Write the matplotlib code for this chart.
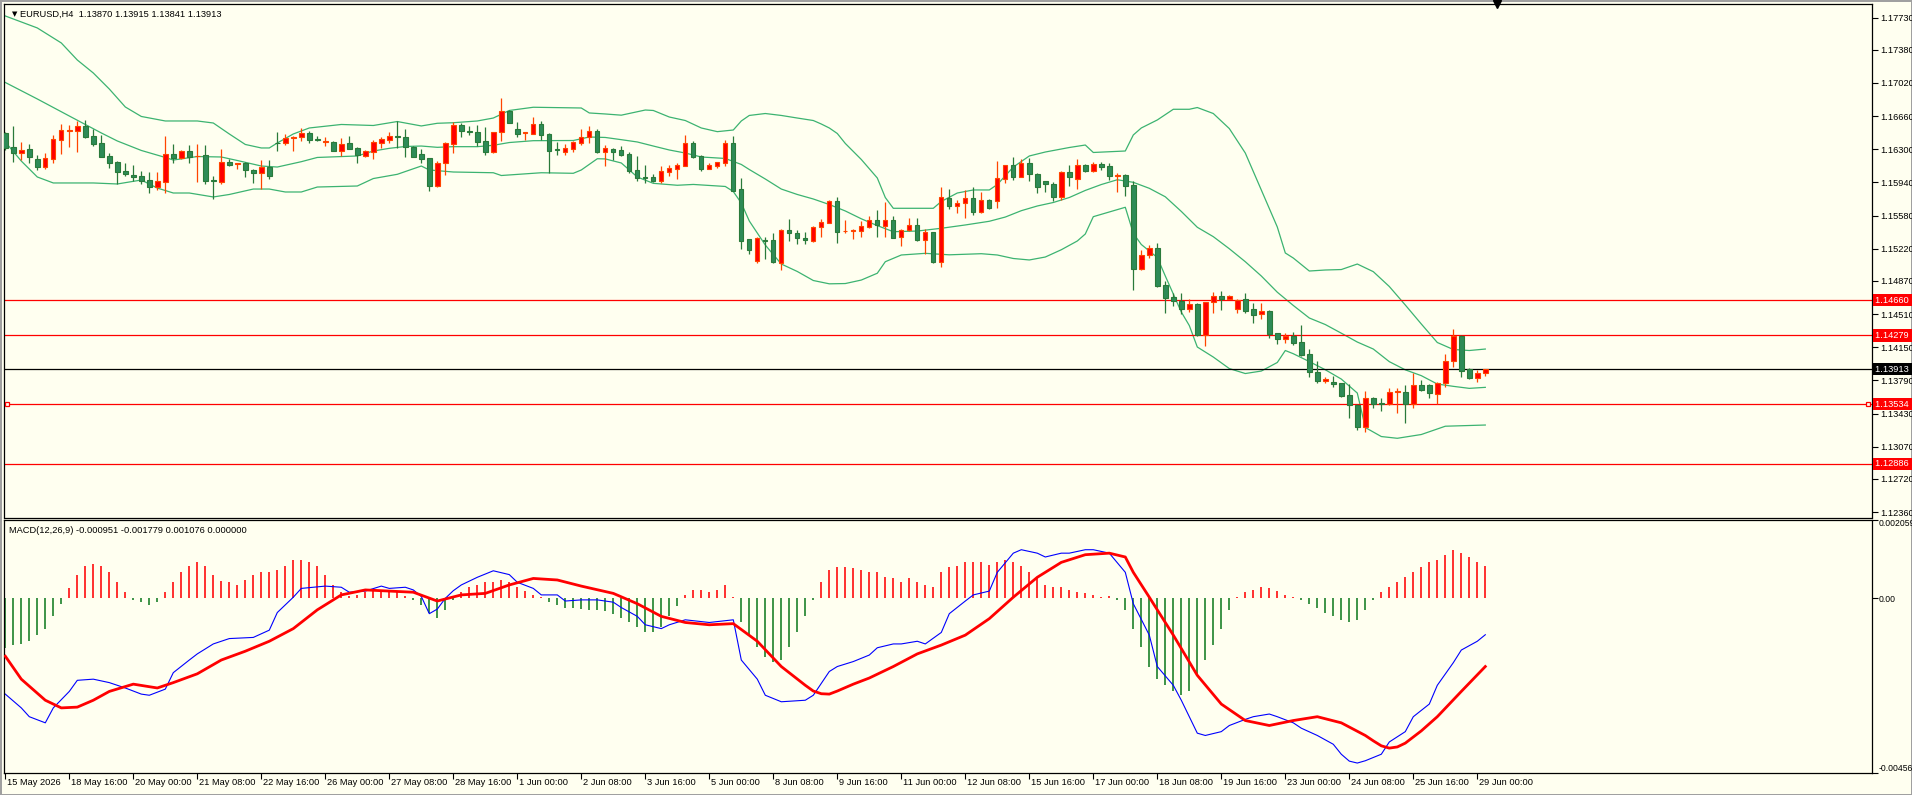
import matplotlib.pyplot as plt
import matplotlib.transforms as mtransforms

# ---- data (EURUSD H4) ----
opens = [1.16480, 1.16321, 1.16256, 1.16303, 1.16194, 1.16111, 1.16198, 1.16404, 1.16502, 1.16502,
         1.16553, 1.16444, 1.16368, 1.16227, 1.16165, 1.16068, 1.16021, 1.16010, 1.15966, 1.15894,
         1.15948, 1.16249, 1.16202, 1.16281, 1.16223, 1.16234, 1.15966, 1.15948, 1.16158, 1.16144,
         1.16147, 1.16075, 1.16039, 1.16104, 1.16372, 1.16364, 1.16422, 1.16429, 1.16480, 1.16411,
         1.16379, 1.16379, 1.16285, 1.16368, 1.16310, 1.16230, 1.16274, 1.16372, 1.16404, 1.16440,
         1.16429, 1.16328, 1.16249, 1.16202, 1.15905, 1.16147, 1.16361, 1.16563, 1.16495, 1.16484,
         1.16390, 1.16274, 1.16484, 1.16712, 1.16516, 1.16477, 1.16469, 1.16574, 1.16466, 1.16299,
         1.16274, 1.16303, 1.16372, 1.16429, 1.16498, 1.16274, 1.16303, 1.16292, 1.16249, 1.16075,
         1.15999, 1.15995, 1.15959, 1.16057, 1.16089, 1.16122, 1.16368, 1.16227, 1.16089, 1.16122,
         1.16154, 1.16372, 1.15869, 1.15322, 1.15090, 1.15318, 1.15315, 1.15069, 1.15423, 1.15387,
         1.15340, 1.15307, 1.15452, 1.15503, 1.15738, 1.15409, 1.15413, 1.15416, 1.15460, 1.15532,
         1.15471, 1.15532, 1.15344, 1.15423, 1.15478, 1.15318, 1.15402, 1.15080, 1.15767, 1.15688,
         1.15713, 1.15767, 1.15622, 1.15749, 1.15735, 1.15981, 1.16125, 1.16003, 1.16147, 1.16028,
         1.15955, 1.15919, 1.15785, 1.16053, 1.15981, 1.16129, 1.16068, 1.16140, 1.16118, 1.16013,
         1.16017, 1.15912, 1.14996, 1.15148, 1.15224, 1.14823, 1.14692, 1.14656, 1.14570, 1.14620,
         1.14280, 1.14638, 1.14707, 1.14678, 1.14570, 1.14671, 1.14566, 1.14508, 1.14544, 1.14301,
         1.14236, 1.14273, 1.14204, 1.14074, 1.13885, 1.13788, 1.13769, 1.13759, 1.13632, 1.13527,
         1.13288, 1.13596, 1.13545, 1.13534, 1.13664, 1.13668, 1.13534, 1.13737, 1.13737, 1.13643,
         1.13759, 1.14005, 1.14273, 1.13911, 1.13813, 1.13870]
highs = [1.16491, 1.16553, 1.16379, 1.16357, 1.16238, 1.16263, 1.16455, 1.16574, 1.16563, 1.16610,
         1.16618, 1.16516, 1.16455, 1.16256, 1.16173, 1.16147, 1.16129, 1.16064, 1.16053, 1.16053,
         1.16444, 1.16357, 1.16296, 1.16346, 1.16357, 1.16343, 1.16010, 1.16303, 1.16191, 1.16151,
         1.16165, 1.16082, 1.16183, 1.16183, 1.16491, 1.16466, 1.16444, 1.16527, 1.16502, 1.16444,
         1.16437, 1.16390, 1.16419, 1.16444, 1.16328, 1.16292, 1.16401, 1.16429, 1.16491, 1.16607,
         1.16520, 1.16335, 1.16303, 1.16209, 1.16173, 1.16382, 1.16600, 1.16582, 1.16553, 1.16563,
         1.16538, 1.16491, 1.16857, 1.16726, 1.16596, 1.16491, 1.16650, 1.16607, 1.16480, 1.16379,
         1.16357, 1.16390, 1.16520, 1.16553, 1.16516, 1.16343, 1.16310, 1.16335, 1.16270, 1.16227,
         1.16129, 1.16031, 1.16118, 1.16126, 1.16154, 1.16455, 1.16393, 1.16238, 1.16154, 1.16165,
         1.16401, 1.16444, 1.15984, 1.15329, 1.15344, 1.15351, 1.15387, 1.15431, 1.15543, 1.15423,
         1.15398, 1.15470, 1.15539, 1.15749, 1.15782, 1.15532, 1.15431, 1.15525, 1.15579, 1.15641,
         1.15727, 1.15575, 1.15431, 1.15557, 1.15557, 1.15431, 1.15402, 1.15887, 1.15865, 1.15749,
         1.15858, 1.15887, 1.15836, 1.15764, 1.16173, 1.16129, 1.16216, 1.16191, 1.16201, 1.16046,
         1.15959, 1.15941, 1.16064, 1.16129, 1.16191, 1.16136, 1.16162, 1.16165, 1.16147, 1.16039,
         1.16031, 1.15959, 1.15206, 1.15260, 1.15279, 1.14866, 1.14743, 1.14736, 1.14671, 1.14627,
         1.14645, 1.14750, 1.14761, 1.14714, 1.14671, 1.14740, 1.14627, 1.14627, 1.14555, 1.14309,
         1.14301, 1.14312, 1.14388, 1.14128, 1.14001, 1.13824, 1.13838, 1.13762, 1.13751, 1.13534,
         1.13672, 1.13614, 1.13596, 1.13708, 1.13704, 1.13740, 1.13874, 1.13795, 1.13751, 1.13773,
         1.14077, 1.14345, 1.14283, 1.13921, 1.13903, 1.13915]
lows = [1.16292, 1.16165, 1.16183, 1.16154, 1.16075, 1.16082, 1.16154, 1.16249, 1.16328, 1.16274,
        1.16426, 1.16339, 1.16212, 1.16100, 1.15919, 1.16013, 1.15959, 1.15926, 1.15829, 1.15858,
        1.15822, 1.16147, 1.16194, 1.16147, 1.15941, 1.15919, 1.15756, 1.15919, 1.16118, 1.16082,
        1.16003, 1.15930, 1.15869, 1.15977, 1.16278, 1.16343, 1.16285, 1.16393, 1.16364, 1.16386,
        1.16335, 1.16281, 1.16227, 1.16303, 1.16154, 1.16212, 1.16194, 1.16314, 1.16364, 1.16310,
        1.16220, 1.16212, 1.16147, 1.15851, 1.15887, 1.16024, 1.16263, 1.16437, 1.16451, 1.16339,
        1.16241, 1.16256, 1.16393, 1.16585, 1.16437, 1.16401, 1.16466, 1.16401, 1.16039, 1.16241,
        1.16241, 1.16270, 1.16346, 1.16364, 1.16263, 1.16118, 1.16183, 1.16227, 1.16046, 1.15959,
        1.15937, 1.15948, 1.15937, 1.16010, 1.15977, 1.16118, 1.16209, 1.16068, 1.16082, 1.16093,
        1.16118, 1.15847, 1.15214, 1.15163, 1.15061, 1.15109, 1.15069, 1.14989, 1.15308, 1.15268,
        1.15268, 1.15297, 1.15351, 1.15496, 1.15279, 1.15387, 1.15322, 1.15344, 1.15442, 1.15351,
        1.15344, 1.15336, 1.15253, 1.15413, 1.15300, 1.15163, 1.15061, 1.15025, 1.15655, 1.15612,
        1.15557, 1.15590, 1.15612, 1.15655, 1.15666, 1.15937, 1.15966, 1.15995, 1.15959, 1.15829,
        1.15836, 1.15742, 1.15749, 1.15901, 1.15872, 1.16049, 1.16053, 1.16075, 1.15966, 1.15840,
        1.15793, 1.14772, 1.14989, 1.15123, 1.14808, 1.14526, 1.14598, 1.14511, 1.14533, 1.14273,
        1.14168, 1.14519, 1.14555, 1.14671, 1.14526, 1.14519, 1.14410, 1.14461, 1.14247, 1.14182,
        1.14200, 1.14175, 1.14055, 1.13824, 1.13759, 1.13759, 1.13722, 1.13614, 1.13379, 1.13252,
        1.13234, 1.13487, 1.13462, 1.13523, 1.13440, 1.13324, 1.13487, 1.13679, 1.13596, 1.13534,
        1.13715, 1.13939, 1.13824, 1.13802, 1.13777, 1.13841]
closes = [1.16310, 1.16256, 1.16292, 1.16220, 1.16111, 1.16202, 1.16408, 1.16509, 1.16509, 1.16553,
          1.16437, 1.16361, 1.16220, 1.16154, 1.16057, 1.16035, 1.16003, 1.15959, 1.15894, 1.15955,
          1.16249, 1.16209, 1.16285, 1.16212, 1.16230, 1.15959, 1.15952, 1.16165, 1.16133, 1.16147,
          1.16071, 1.16039, 1.16104, 1.16013, 1.16364, 1.16419, 1.16429, 1.16473, 1.16401, 1.16404,
          1.16386, 1.16285, 1.16357, 1.16306, 1.16238, 1.16281, 1.16379, 1.16408, 1.16444, 1.16429,
          1.16321, 1.16220, 1.16194, 1.15905, 1.16147, 1.16364, 1.16563, 1.16502, 1.16484, 1.16382,
          1.16274, 1.16484, 1.16715, 1.16589, 1.16469, 1.16484, 1.16574, 1.16455, 1.16285, 1.16288,
          1.16314, 1.16379, 1.16429, 1.16495, 1.16270, 1.16314, 1.16270, 1.16238, 1.16068, 1.15992,
          1.15992, 1.15959, 1.16060, 1.16093, 1.16129, 1.16368, 1.16220, 1.16089, 1.16129, 1.16162,
          1.16372, 1.15851, 1.15308, 1.15206, 1.15336, 1.15307, 1.15080, 1.15423, 1.15387, 1.15333,
          1.15311, 1.15460, 1.15510, 1.15738, 1.15405, 1.15416, 1.15420, 1.15467, 1.15532, 1.15478,
          1.15532, 1.15340, 1.15423, 1.15478, 1.15315, 1.15402, 1.15080, 1.15778, 1.15684, 1.15713,
          1.15767, 1.15622, 1.15749, 1.15666, 1.15984, 1.16125, 1.16003, 1.16147, 1.16028, 1.15894,
          1.15919, 1.15785, 1.16053, 1.15995, 1.16125, 1.16068, 1.16140, 1.16111, 1.16013, 1.16021,
          1.15905, 1.15003, 1.15148, 1.15224, 1.14815, 1.14689, 1.14649, 1.14570, 1.14616, 1.14280,
          1.14638, 1.14707, 1.14674, 1.14703, 1.14663, 1.14548, 1.14504, 1.14544, 1.14294, 1.14243,
          1.14273, 1.14200, 1.14066, 1.13885, 1.13788, 1.13809, 1.13755, 1.13621, 1.13523, 1.13288,
          1.13596, 1.13534, 1.13534, 1.13668, 1.13672, 1.13534, 1.13737, 1.13686, 1.13650, 1.13766,
          1.14005, 1.14273, 1.13896, 1.13813, 1.13867, 1.13913]

# Bollinger bands (bar index, value)
bb_upper_idx = [0, 4, 7, 9, 11, 13, 15, 17, 20, 24, 26, 28, 30, 32, 33, 34, 36, 38, 42, 46,
                49, 52, 54, 56, 59, 61, 63, 66, 72, 73, 75, 77, 80, 81, 83, 85, 87, 89, 91, 92,
                93, 95, 97, 99, 101, 102, 103, 104, 105, 107, 109, 110, 111, 116, 117, 119, 121, 123, 124, 126,
                128, 130, 133, 135, 136, 140, 141, 142, 144, 146, 148, 149, 151, 153, 155, 157, 159, 160, 161, 163,
                165, 167, 169, 171, 173, 175, 177, 179, 181, 183, 185]
bb_upper = [1.17747, 1.17617, 1.17454, 1.17269, 1.17128, 1.16954, 1.16759, 1.16656, 1.16607, 1.16607,
            1.16585, 1.16466, 1.16352, 1.16314, 1.16314, 1.16368, 1.16466, 1.16531, 1.16569, 1.16558,
            1.16601, 1.16553, 1.16582, 1.16588, 1.16607, 1.16639, 1.16721, 1.16756, 1.16748, 1.16694,
            1.16683, 1.16670, 1.16726, 1.16721, 1.16650, 1.16612, 1.16531, 1.16491, 1.16509, 1.16607,
            1.16667, 1.16688, 1.16667, 1.16639, 1.16612, 1.16574, 1.16531, 1.16471, 1.16363, 1.16189,
            1.15988, 1.15776, 1.15659, 1.15659, 1.15733, 1.15825, 1.15858, 1.15858, 1.15917, 1.16107,
            1.16227, 1.16270, 1.16319, 1.16346, 1.16265, 1.16281, 1.16455, 1.16531, 1.16618, 1.16734,
            1.16734, 1.16753, 1.16688, 1.16525, 1.16259, 1.15858, 1.15456, 1.15174, 1.15119, 1.14978,
            1.14989, 1.14994, 1.15054, 1.14971, 1.14810, 1.14609, 1.14403, 1.14202, 1.14126, 1.14115,
            1.14131]
bb_mid_idx = [0, 4, 8, 12, 14, 17, 20, 21, 24, 27, 29, 32, 34, 37, 39, 44, 46, 48, 50, 52,
              54, 56, 59, 61, 63, 66, 71, 73, 75, 77, 79, 81, 83, 85, 87, 90, 92, 93, 95, 97,
              99, 101, 103, 105, 107, 109, 111, 114, 117, 120, 123, 125, 127, 129, 131, 133, 135, 137, 139, 141,
              143, 145, 147, 149, 151, 153, 155, 157, 159, 161, 163, 165, 167, 169, 171, 173, 175, 177, 179, 181,
              183, 185]
bb_mid = [1.17025, 1.16846, 1.16661, 1.16477, 1.16390, 1.16287, 1.16211, 1.16183, 1.16221, 1.16216,
          1.16178, 1.16118, 1.16107, 1.16165, 1.16211, 1.16227, 1.16281, 1.16310, 1.16330, 1.16335,
          1.16321, 1.16328, 1.16328, 1.16343, 1.16373, 1.16393, 1.16395, 1.16433, 1.16428, 1.16404,
          1.16379, 1.16335, 1.16292, 1.16259, 1.16216, 1.16200, 1.16135, 1.16080, 1.15977, 1.15868,
          1.15809, 1.15760, 1.15700, 1.15630, 1.15545, 1.15471, 1.15405, 1.15412, 1.15442, 1.15478,
          1.15518, 1.15564, 1.15633, 1.15684, 1.15722, 1.15776, 1.15853, 1.15917, 1.15969, 1.15941,
          1.15876, 1.15784, 1.15625, 1.15453, 1.15351, 1.15220, 1.15079, 1.14924, 1.14748, 1.14604,
          1.14468, 1.14397, 1.14303, 1.14207, 1.14131, 1.13994, 1.13905, 1.13842, 1.13751, 1.13726,
          1.13704, 1.13715]
bb_lower_idx = [0, 2, 4, 6, 11, 14, 17, 19, 21, 23, 26, 28, 31, 33, 35, 37, 39, 44, 46, 49,
                52, 53, 56, 61, 62, 67, 71, 72, 74, 75, 77, 79, 81, 84, 86, 90, 91, 92, 93, 95,
                97, 99, 101, 103, 105, 107, 109, 110, 112, 115, 118, 122, 124, 126, 128, 130, 132, 134, 135, 136,
                138, 140, 141, 142, 144, 145, 147, 148, 149, 151, 153, 155, 157, 159, 160, 161, 163, 165, 167, 169,
                170, 172, 174, 177, 180, 185]
bb_lower = [1.16379, 1.16172, 1.15999, 1.15934, 1.15934, 1.15923, 1.15966, 1.15879, 1.15825, 1.15825,
            1.15782, 1.15809, 1.15868, 1.15868, 1.15836, 1.15836, 1.15890, 1.15901, 1.15982, 1.16028,
            1.16118, 1.16075, 1.16053, 1.16045, 1.16015, 1.16045, 1.16039, 1.16075, 1.16197, 1.16195,
            1.16151, 1.15999, 1.15930, 1.15909, 1.15918, 1.15896, 1.15841, 1.15716, 1.15521, 1.15260,
            1.15054, 1.14973, 1.14875, 1.14839, 1.14842, 1.14880, 1.14954, 1.15079, 1.15152, 1.15170,
            1.15154, 1.15166, 1.15152, 1.15114, 1.15098, 1.15130, 1.15209, 1.15304, 1.15380, 1.15568,
            1.15619, 1.15670, 1.15387, 1.15266, 1.15125, 1.14924, 1.14533, 1.14386, 1.14153, 1.14044,
            1.13919, 1.13865, 1.13892, 1.13985, 1.14115, 1.14080, 1.13995, 1.13906, 1.13805, 1.13653,
            1.13279, 1.13181, 1.13162, 1.13203, 1.13293, 1.13306]

# horizontal levels
red_levels = [1.14660, 1.14279, 1.13534, 1.12886]
last_price = 1.13913

price_ticks = [1.17730, 1.17380, 1.17020, 1.16660, 1.16300, 1.15940, 1.15580, 1.15220,
               1.14870, 1.14510, 1.14150, 1.13790, 1.13430, 1.13070, 1.12720, 1.12360]
price_range = (1.12302, 1.17877)

# MACD(12,26,9)
macd_idx = [0, 2, 3, 5, 6, 8, 9, 11, 13, 15, 17, 18, 20, 21, 23, 24, 26, 28, 31, 33,
            34, 36, 37, 40, 42, 43, 45, 47, 48, 50, 51, 52, 53, 54, 55, 56, 57, 59, 61, 63,
            64, 66, 67, 69, 70, 72, 74, 76, 77, 79, 80, 82, 83, 85, 88, 91, 92, 94, 95, 97,
            100, 101, 103, 104, 106, 108, 109, 111, 112, 114, 115, 117, 118, 120, 121, 123, 124, 126, 127, 129,
            130, 132, 133, 135, 136, 138, 140, 141, 143, 144, 146, 147, 149, 150, 152, 153, 155, 156, 158, 159,
            161, 162, 164, 166, 167, 168, 169, 170, 172, 173, 175, 176, 178, 179, 181, 182, 184, 185]
macd_main = [-0.00250, -0.00286, -0.00309, -0.00325, -0.00286, -0.00243, -0.00214, -0.00211, -0.00220, -0.00234,
             -0.00250, -0.00253, -0.00237, -0.00194, -0.00161, -0.00145, -0.00119, -0.00105, -0.00102, -0.00083,
             -0.00037, 0.00003, 0.00026, 0.00032, 0.00029, 0.00016, 0.00019, 0.00032, 0.00026, 0.00029,
             0.00022, 0.00005, -0.00040, -0.00028, 0.00000, 0.00020, 0.00035, 0.00055, 0.00072, 0.00062,
             0.00042, 0.00026, 0.00009, 0.00009, -0.00007, -0.00004, -0.00004, -0.00010, -0.00024, -0.00047,
             -0.00069, -0.00079, -0.00069, -0.00056, -0.00063, -0.00056, -0.00161, -0.00211, -0.00253, -0.00270,
             -0.00266, -0.00253, -0.00191, -0.00178, -0.00165, -0.00148, -0.00129, -0.00119, -0.00119, -0.00112,
             -0.00119, -0.00089, -0.00040, -0.00007, 0.00009, 0.00019, 0.00068, 0.00118, 0.00127, 0.00118,
             0.00108, 0.00118, 0.00118, 0.00127, 0.00127, 0.00118, 0.00068, -0.00014, -0.00096, -0.00178,
             -0.00227, -0.00266, -0.00352, -0.00358, -0.00348, -0.00332, -0.00316, -0.00309, -0.00302, -0.00309,
             -0.00325, -0.00339, -0.00358, -0.00381, -0.00407, -0.00425, -0.00430, -0.00424, -0.00407, -0.00375,
             -0.00348, -0.00309, -0.00276, -0.00227, -0.00168, -0.00135, -0.00112, -0.00095]
signal_idx = [0, 2, 5, 7, 9, 11, 13, 16, 19, 21, 24, 27, 30, 33, 36, 39, 42, 45, 48, 51,
              54, 57, 60, 63, 66, 69, 72, 76, 79, 82, 85, 88, 91, 94, 97, 100, 101, 102, 103, 104,
              106, 108, 111, 114, 117, 120, 123, 126, 129, 132, 135, 138, 140, 141, 143, 146, 149, 152, 155, 158,
              161, 164, 167, 170, 171, 172, 173, 174, 175, 176, 177, 179, 182, 185]
macd_signal = [-0.00151, -0.00211, -0.00266, -0.00286, -0.00284, -0.00266, -0.00243, -0.00224, -0.00234, -0.00220,
               -0.00197, -0.00161, -0.00138, -0.00112, -0.00079, -0.00030, 0.00009, 0.00022, 0.00019, 0.00016,
               -0.00007, 0.00009, 0.00013, 0.00035, 0.00052, 0.00048, 0.00032, 0.00013, -0.00014, -0.00047,
               -0.00063, -0.00069, -0.00066, -0.00112, -0.00178, -0.00227, -0.00242, -0.00249, -0.00250, -0.00242,
               -0.00224, -0.00208, -0.00178, -0.00145, -0.00122, -0.00096, -0.00053, 0.00003, 0.00055, 0.00094,
               0.00114, 0.00118, 0.00108, 0.00068, 0.00003, -0.00096, -0.00201, -0.00276, -0.00319, -0.00332,
               -0.00319, -0.00309, -0.00325, -0.00358, -0.00372, -0.00385, -0.00391, -0.00388, -0.00378, -0.00362,
               -0.00346, -0.00309, -0.00243, -0.00178]
macd_hist = [-0.00129, -0.00122, -0.00119, -0.00112, -0.00096, -0.00079, -0.00047, -0.00014, 0.00026, 0.00062,
             0.00085, 0.00091, 0.00085, 0.00068, 0.00042, 0.00016, -0.00004, -0.00010, -0.00017, -0.00010,
             0.00016, 0.00042, 0.00068, 0.00085, 0.00094, 0.00085, 0.00062, 0.00045, 0.00042, 0.00035,
             0.00048, 0.00062, 0.00068, 0.00068, 0.00075, 0.00085, 0.00101, 0.00101, 0.00094, 0.00085,
             0.00062, 0.00035, 0.00016, 0.00006, 0.00009, 0.00016, 0.00022, 0.00022, 0.00019, 0.00016,
             0.00006, -0.00004, -0.00017, -0.00037, -0.00050, -0.00030, -0.00004, 0.00016, 0.00029, 0.00035,
             0.00042, 0.00042, 0.00048, 0.00042, 0.00029, 0.00019, 0.00009, 0.00003, -0.00010, -0.00017,
             -0.00024, -0.00024, -0.00027, -0.00030, -0.00030, -0.00033, -0.00040, -0.00050, -0.00063, -0.00076,
             -0.00089, -0.00089, -0.00076, -0.00047, -0.00020, 0.00009, 0.00022, 0.00022, 0.00016, 0.00022,
             0.00035, 0.00003, -0.00063, -0.00096, -0.00128, -0.00154, -0.00167, -0.00161, -0.00128, -0.00089,
             -0.00047, -0.00004, 0.00042, 0.00075, 0.00081, 0.00081, 0.00078, 0.00075, 0.00068, 0.00068,
             0.00055, 0.00052, 0.00042, 0.00052, 0.00042, 0.00035, 0.00029, 0.00068, 0.00081, 0.00085,
             0.00094, 0.00094, 0.00094, 0.00088, 0.00094, 0.00101, 0.00094, 0.00085, 0.00068, 0.00052,
             0.00035, 0.00029, 0.00029, 0.00022, 0.00016, 0.00013, 0.00009, 0.00003, 0.00006, -0.00004,
             -0.00030, -0.00079, -0.00128, -0.00178, -0.00211, -0.00227, -0.00243, -0.00253, -0.00243, -0.00201,
             -0.00161, -0.00122, -0.00079, -0.00030, 0.00003, 0.00016, 0.00022, 0.00029, 0.00026, 0.00019,
             0.00009, 0.00003, -0.00004, -0.00014, -0.00024, -0.00037, -0.00047, -0.00056, -0.00063, -0.00056,
             -0.00030, -0.00004, 0.00016, 0.00029, 0.00042, 0.00055, 0.00068, 0.00081, 0.00094, 0.00101,
             0.00114, 0.00127, 0.00118, 0.00108, 0.00094, 0.00085]
macd_range = (-0.00456, 0.002059)

time_labels = ["15 May 2026", "18 May 16:00", "20 May 00:00", "21 May 08:00", "22 May 16:00",
               "26 May 00:00", "27 May 08:00", "28 May 16:00", "1 Jun 00:00", "2 Jun 08:00",
               "3 Jun 16:00", "5 Jun 00:00", "8 Jun 08:00", "9 Jun 16:00", "11 Jun 00:00",
               "12 Jun 08:00", "15 Jun 16:00", "17 Jun 00:00", "18 Jun 08:00", "19 Jun 16:00",
               "23 Jun 00:00", "24 Jun 08:00", "25 Jun 16:00", "29 Jun 00:00"]
label_step = 8  # one time label every 8 bars

# ---- styling ----
BG = "#FFFFF0"
UP_FACE, UP_EDGE = "#FF0000", "#FF4500"
DN_FACE, DN_EDGE = "#2E8B57", "#2A7A3A"
BAND = "#3CB371"
FS = 6.7
plt.rcParams["font.family"] = ["Liberation Sans", "DejaVu Sans"]

W, H = 1912, 795
fig = plt.figure(figsize=(W / 100, H / 100), dpi=100, facecolor=BG)
fig.patch.set_edgecolor("#A0A0A0")
fig.patch.set_linewidth(2)


def px_axes(left, top, right, bottom):
    return fig.add_axes([left / W, 1 - bottom / H, (right - left) / W, (bottom - top) / H])


ax = px_axes(4, 4, 1872, 517.5)
axm = px_axes(4, 519.5, 1872, 773)
bar_px = 8.0
x_lo = -1.3 / bar_px
x_hi = x_lo + 1868 / bar_px
for a in (ax, axm):
    a.set_facecolor(BG)
    a.set_xlim(x_lo, x_hi)
    for s in a.spines.values():
        s.set_color("black")
        s.set_linewidth(0.9)

# ---- candles ----
n = len(closes)
for i in range(n):
    o, h, l, c = opens[i], highs[i], lows[i], closes[i]
    up = c >= o
    face = UP_FACE if up else DN_FACE
    edge = UP_EDGE if up else DN_EDGE
    ax.vlines(i, l, h, color=edge, lw=0.9, zorder=2)
    body = max(abs(c - o), 0.00002)
    ax.bar(i, body, bottom=min(o, c), width=0.55, color=face, edgecolor=edge,
           linewidth=0.8, zorder=3)

# ---- bollinger bands ----
ax.plot(bb_upper_idx, bb_upper, color=BAND, lw=0.9, zorder=1)
ax.plot(bb_mid_idx, bb_mid, color=BAND, lw=0.9, zorder=1)
ax.plot(bb_lower_idx, bb_lower, color=BAND, lw=0.9, zorder=1)

# ---- horizontal levels ----
for lv in red_levels:
    ax.axhline(lv, color="red", lw=0.9, zorder=1)
ax.axhline(last_price, color="black", lw=0.9, zorder=1)
# selected line markers
sel_tr = mtransforms.blended_transform_factory(ax.transAxes, ax.transData)
ax.plot([0.0015, 0.998], [red_levels[2]] * 2, ls="none", marker="s", ms=3.5, mfc=BG,
        mec="red", mew=0.9, transform=sel_tr, clip_on=False, zorder=5)

ax.set_ylim(*price_range)
ax.yaxis.tick_right()
ax.set_yticks(price_ticks)
ax.set_yticklabels([f"{v:.5f}" for v in price_ticks])
ax.tick_params(axis="y", direction="out", length=4, width=0.8, pad=2, labelsize=FS)
ax.tick_params(axis="x", bottom=False, labelbottom=False)

# price boxes on the axis
box_tr = mtransforms.blended_transform_factory(ax.transAxes, ax.transData)
for lv in red_levels:
    ax.text(1.0016, lv, f"{lv:.5f}  ", transform=box_tr, ha="left", va="center", fontsize=FS,
            color="white", clip_on=False, zorder=6,
            bbox=dict(boxstyle="square,pad=0.18", fc="red", ec="none"))
ax.text(1.0016, last_price, f"{last_price:.5f}  ", transform=box_tr, ha="left", va="center",
        fontsize=FS, color="white", clip_on=False, zorder=6,
        bbox=dict(boxstyle="square,pad=0.18", fc="black", ec="none"))

# header
ax.text(0.0043, 0.986, "\u25BC", transform=ax.transAxes, fontsize=5, family="DejaVu Sans",
        ha="left", va="top")
ax.text(0.0085, 0.988, f"EURUSD,H4  {opens[-1]:.5f} {highs[-1]:.5f} {lows[-1]:.5f} {closes[-1]:.5f}",
        transform=ax.transAxes, fontsize=FS, ha="left", va="top")
# chart shift marker at the top edge
ax.plot([0.7995], [1.0], marker="v", ms=6, color="black", transform=ax.transAxes,
        clip_on=False, zorder=6)

# ---- MACD pane ----
hx = list(range(len(macd_hist)))
pos = [(i, v) for i, v in zip(hx, macd_hist) if v >= 0]
neg = [(i, v) for i, v in zip(hx, macd_hist) if v < 0]
axm.vlines([p[0] for p in pos], 0, [p[1] for p in pos], color="#FF2020", lw=1.3, zorder=1)
axm.vlines([p[0] for p in neg], 0, [p[1] for p in neg], color="#2E8B3A", lw=1.3, zorder=1)
axm.plot(macd_idx, macd_main, color="#0000FF", lw=0.8, zorder=2)
axm.plot(signal_idx, macd_signal, color="#FF0000", lw=2.0, zorder=3)

axm.set_ylim(*macd_range)
axm.yaxis.tick_right()
axm.set_yticks([macd_range[1], 0.0, macd_range[0]])
axm.set_yticklabels(["0.002059", "0.00", "-0.00456"])
axm.tick_params(axis="y", direction="out", length=4, width=0.8, pad=1, labelsize=6.2)
ylabels = axm.get_yticklabels()
ylabels[0].set_va("top")
ylabels[-1].set_va("bottom")
axm.text(0.0027, 0.975, "MACD(12,26,9) -0.000951 -0.001779 0.001076 0.000000",
         transform=axm.transAxes, fontsize=FS, ha="left", va="top")

# time axis
tick_bars = [k * label_step for k in range(len(time_labels))]
axm.set_xticks(tick_bars)
axm.set_xticklabels([])
axm.tick_params(axis="x", direction="out", length=4, width=0.8)
lab_tr = mtransforms.blended_transform_factory(axm.transData, axm.transAxes)
lab_tr = lab_tr + mtransforms.ScaledTranslation(2 / 100, -5 / 100, fig.dpi_scale_trans)
for b, lab in zip(tick_bars, time_labels):
    axm.text(b, 0, lab, transform=lab_tr, fontsize=FS, ha="left", va="top", clip_on=False)

fig.savefig("out.png", dpi=100, facecolor=BG)
